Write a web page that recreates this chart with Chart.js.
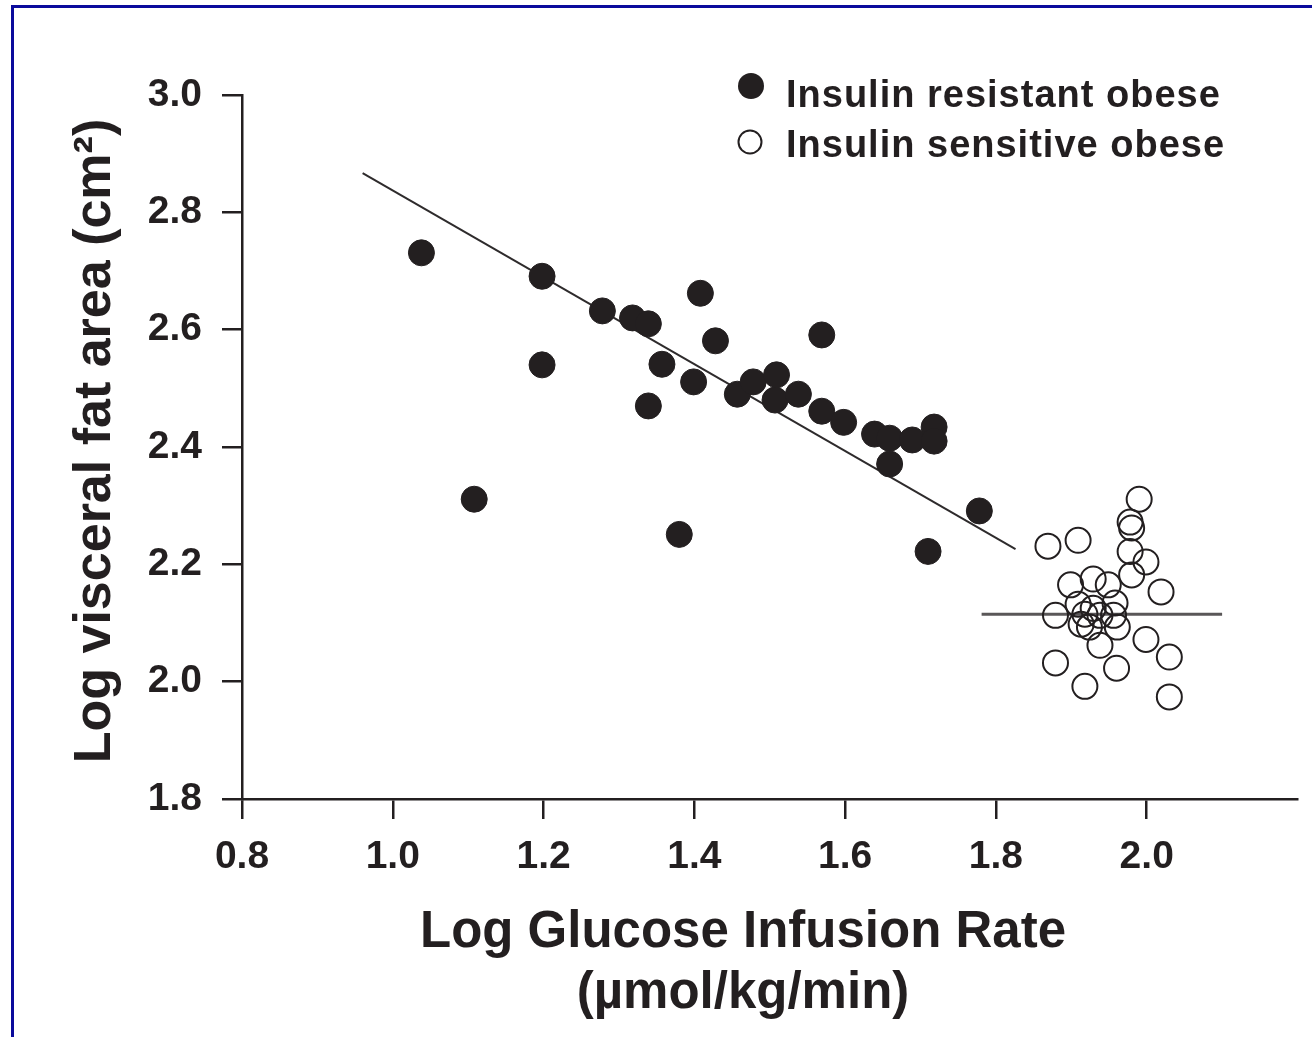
<!DOCTYPE html>
<html>
<head>
<meta charset="utf-8">
<title>Log visceral fat area vs log glucose infusion rate</title>
<script src="https://cdn.jsdelivr.net/npm/chart.js@4.4.1/dist/chart.umd.min.js"></script>
<style>
  html, body { margin: 0; padding: 0; background: #ffffff; }
  #wrap { position: relative; width: 1312px; height: 1037px; overflow: hidden; background: #ffffff; }
  #frame { position: absolute; left: 11px; top: 5px; width: 1400px; height: 1100px;
           border-top: 3px solid #0a0a9c; border-left: 3px solid #0a0a9c; }
  #grafico { position: absolute; left: 0; top: 0; }
</style>
</head>
<body>
<div id="wrap">
  <div id="frame"></div>
  <canvas id="grafico" width="1312" height="1037"></canvas>
</div>
<script>
// Insulin resistant obese (filled circles)
const resistantX = [1.038, 1.108, 1.198, 1.198, 1.278, 1.318, 1.339, 1.357, 1.339, 1.380,
                    1.408, 1.428, 1.399, 1.457, 1.478, 1.509, 1.507, 1.538, 1.569, 1.569,
                    1.598, 1.639, 1.659, 1.659, 1.689, 1.718, 1.718, 1.710, 1.778];
const resistantY = [2.731, 2.311, 2.691, 2.540, 2.632, 2.620, 2.610, 2.541, 2.470, 2.251,
                    2.662, 2.581, 2.511, 2.490, 2.511, 2.523, 2.480, 2.490, 2.591, 2.461,
                    2.442, 2.422, 2.415, 2.371, 2.412, 2.434, 2.410, 2.222, 2.291];

// Insulin sensitive obese (open circles)
const sensitiveX = [1.869, 1.909, 1.990, 1.978, 1.980, 1.978, 1.999, 1.980, 2.019, 1.899,
                    1.929, 1.949, 1.879, 1.909, 1.918, 1.929, 1.938, 1.958, 1.956, 1.961,
                    1.913, 1.924, 1.938, 1.999, 2.030, 1.879, 1.960, 1.918, 2.030];
const sensitiveY = [2.231, 2.241, 2.311, 2.272, 2.262, 2.222, 2.204, 2.182, 2.153, 2.165,
                    2.175, 2.165, 2.113, 2.132, 2.115, 2.125, 2.113, 2.134, 2.113, 2.093,
                    2.098, 2.093, 2.062, 2.072, 2.042, 2.032, 2.023, 1.992, 1.974];

// fitted line for the resistant group and mean line for the sensitive group
const regressaoX = [0.960, 1.826];
const regressaoY = [2.867, 2.226];
const mediaX = [1.781, 2.100];
const mediaY = [2.115, 2.115];

const xTicks = [0.8, 1.0, 1.2, 1.4, 1.6, 1.8, 2.0];
const yTicks = [1.8, 2.0, 2.2, 2.4, 2.6, 2.8, 3.0];

const legendas = ['Insulin resistant obese', 'Insulin sensitive obese'];
const tituloX = ['Log Glucose Infusion Rate', '(\u00b5mol/kg/min)'];
const tituloY = 'Log visceral fat area (cm\u00b2)';

const INK = '#231f20';
const FONTE = '"Liberation Sans", Arial, Helvetica, sans-serif';

function pontos(xs, ys) {
    return xs.map((x, i) => ({ x: x, y: ys[i] }));
}

// titles and legend drawn straight on the canvas
const textos = {
    id: 'textos',
    afterDraw(chart) {
        const c = chart.ctx;
        c.save();
        c.fillStyle = INK;
        c.strokeStyle = INK;

        // axis titles
        c.font = 'bold 51px ' + FONTE;
        c.textAlign = 'center';
        c.textBaseline = 'alphabetic';
        c.fillText(tituloX[0], 743, 947);
        c.fillText(tituloX[1], 743, 1008);

        c.font = 'bold 52px ' + FONTE;
        c.save();
        c.translate(110, 441);
        c.rotate(-Math.PI / 2);
        c.fillText(tituloY, 0, 0);
        c.restore();

        // legend
        c.beginPath();
        c.arc(751, 86, 13, 0, Math.PI * 2);
        c.fill();
        c.beginPath();
        c.lineWidth = 2;
        c.arc(750, 142, 11.5, 0, Math.PI * 2);
        c.stroke();

        c.font = 'bold 38px ' + FONTE;
        c.textAlign = 'left';
        if ('letterSpacing' in c) c.letterSpacing = '1px';
        c.fillText(legendas[0], 786, 107);
        c.fillText(legendas[1], 786, 157);
        c.restore();
    }
};

const eixo = {
    type: 'linear',
    grid: { display: true, drawOnChartArea: false, drawTicks: true, tickLength: 20, lineWidth: 2.5, color: INK },
    border: { display: true, width: 2.5, color: INK },
    ticks: {
        color: INK,
        font: { family: FONTE, size: 39, weight: 'bold' },
        callback: (v) => Number(v).toFixed(1)
    }
};

new Chart(document.getElementById('grafico'), {
    type: 'scatter',
    data: {
        datasets: [
            {
                label: legendas[0],
                data: pontos(resistantX, resistantY),
                pointRadius: 13,
                pointBackgroundColor: INK,
                pointBorderColor: INK,
                pointBorderWidth: 1,
                order: 1
            },
            {
                label: legendas[1],
                data: pontos(sensitiveX, sensitiveY),
                pointRadius: 12.5,
                pointBackgroundColor: 'rgba(0,0,0,0)',
                pointBorderColor: INK,
                pointBorderWidth: 2,
                order: 1
            },
            {
                label: 'fit',
                data: pontos(regressaoX, regressaoY),
                showLine: true,
                pointRadius: 0,
                borderColor: '#2e2b2c',
                borderWidth: 2,
                order: 2
            },
            {
                label: 'mean',
                data: pontos(mediaX, mediaY),
                showLine: true,
                pointRadius: 0,
                borderColor: '#5a5758',
                borderWidth: 3,
                order: 2
            }
        ]
    },
    options: {
        responsive: false,
        animation: false,
        events: [],
        layout: { padding: { top: 95, right: 14, left: 0, bottom: 0 } },
        plugins: {
            legend: { display: false },
            tooltip: { enabled: false }
        },
        scales: {
            x: {
                ...eixo,
                min: 0.8,
                max: 2.2,
                ticks: { ...eixo.ticks, padding: 15, maxRotation: 0 },
                afterBuildTicks: (s) => { s.ticks = xTicks.map(v => ({ value: v })); },
                afterFit: (s) => { s.height = 1037 - 799; }
            },
            y: {
                ...eixo,
                min: 1.8,
                max: 3.0,
                ticks: { ...eixo.ticks, padding: 20 },
                afterBuildTicks: (s) => { s.ticks = yTicks.map(v => ({ value: v })); },
                afterFit: (s) => { s.width = 242; }
            }
        }
    },
    plugins: [textos]
});
</script>
</body>
</html>
